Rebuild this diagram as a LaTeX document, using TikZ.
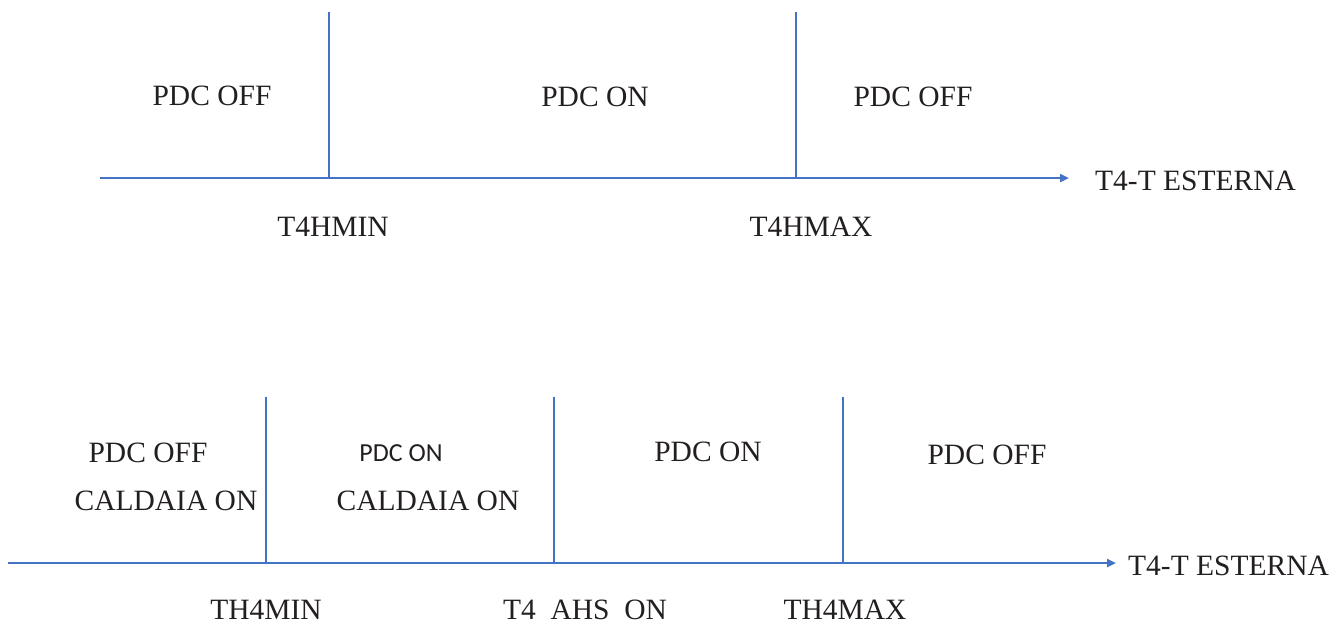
\documentclass[tikz,border=0pt]{standalone}
\usepackage{fontspec}
\setmainfont{Liberation Serif}
\newfontfamily\sansf{Carlito}
\usetikzlibrary{arrows.meta}
\definecolor{axisblue}{HTML}{4472C4}
\definecolor{txt}{HTML}{231F20}
\tikzset{
  axisline/.style={draw=axisblue, line width=2.4pt},
  arrowline/.style={axisline, -{Triangle[length=9pt,width=8pt]}},
  lbl/.style={inner sep=0pt, text=txt, font=\fontsize{29.5}{32}\selectfont},
  slbl/.style={inner sep=0pt, text=txt, font=\sansf\fontsize{26}{30}\selectfont},
}
\begin{document}
\begin{tikzpicture}[x=1pt,y=-1pt]
\useasboundingbox (0,0) rectangle (1333,625);
% top axis
\coordinate (a1s) at (100,178);
\coordinate (a1e) at (1069,178);
\coordinate (v1t) at (329,12);
\coordinate (v1b) at (329,178);
\coordinate (v2t) at (796,12);
\coordinate (v2b) at (796,178);
\draw[arrowline] (a1s) -- (a1e);
\draw[axisline] (v1t) -- (v1b);
\draw[axisline] (v2t) -- (v2b);
\node[lbl] (t1) at (212,96) {PDC OFF};
\node[lbl] (t2) at (595,97) {PDC ON};
\node[lbl] (t3) at (913,97) {PDC OFF};
\node[lbl, anchor=west] (t4) at (1095,181) {T4-T ESTERNA};
\node[lbl] (t5) at (333,227) {T4HMIN};
\node[lbl] (t6) at (811,227) {T4HMAX};
% bottom axis
\coordinate (a2s) at (8,563);
\coordinate (a2e) at (1116,563);
\coordinate (w1t) at (266,397);
\coordinate (w1b) at (266,563);
\coordinate (w2t) at (554,397);
\coordinate (w2b) at (554,563);
\coordinate (w3t) at (843,397);
\coordinate (w3b) at (843,563);
\draw[arrowline] (a2s) -- (a2e);
\draw[axisline] (w1t) -- (w1b);
\draw[axisline] (w2t) -- (w2b);
\draw[axisline] (w3t) -- (w3b);
\node[lbl] (b1) at (148,453) {PDC OFF};
\node[lbl] (b2) at (166,501) {CALDAIA ON};
\node[slbl] (b3) at (401,453) {PDC ON};
\node[lbl] (b4) at (428,501) {CALDAIA ON};
\node[lbl] (b5) at (708,452) {PDC ON};
\node[lbl] (b6) at (987,455) {PDC OFF};
\node[lbl, anchor=west] (b7) at (1128,566) {T4-T ESTERNA};
\node[lbl] (b8) at (266,610) {TH4MIN};
\node[lbl] (b9) at (585,610) {T4\ \ AHS\ \ ON};
\node[lbl] (b10) at (845,610) {TH4MAX};
\end{tikzpicture}
\end{document}
